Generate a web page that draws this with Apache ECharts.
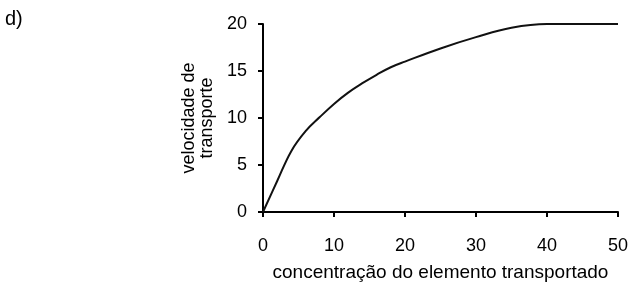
<!DOCTYPE html>
<html>
<head>
<meta charset="utf-8">
<script src="https://cdn.jsdelivr.net/npm/echarts@6/dist/echarts.min.js"></script>
<style>
  html, body { margin: 0; padding: 0; background: #fff; }
  #chart { width: 631px; height: 287px; }
</style>
</head>
<body>
<div id="chart"></div>
<script>
  // valores
  var concentracao = [0, 2, 4, 6, 8, 10, 12, 14, 16, 18, 20, 25, 30, 35, 40, 45, 50]
  var velocidade = [0, 3.3, 6.5, 8.6, 10.1, 11.5, 12.7, 13.7, 14.6, 15.4, 16.0, 17.4, 18.6, 19.6, 20, 20, 20]
  var xTicks = [0, 10, 20, 30, 40, 50]
  var yTicks = [0, 5, 10, 15, 20]

  var pts = []
  for (var i = 0; i < concentracao.length; i++) {
    pts.push([concentracao[i], velocidade[i]])
  }

  var fonte = '"Liberation Sans", Arial, sans-serif'

  var myChart = echarts.init(document.getElementById('chart'))
  myChart.setOption({
    animation: false,
    grid: { left: 263, right: 13, top: 24, bottom: 75 },
    graphic: [{
      type: 'text', left: 5, top: 9,
      style: { text: 'd)', font: '20px ' + fonte, fill: '#000' }
    }],
    xAxis: {
      type: 'value',
      min: xTicks[0], max: xTicks[xTicks.length - 1], interval: 10,
      name: 'concentração do elemento transportado',
      nameLocation: 'middle', nameGap: 51,
      nameTextStyle: { color: '#000', fontSize: 19, fontFamily: fonte },
      axisLine: { lineStyle: { color: '#000', width: 2 } },
      axisTick: { show: true, length: 5, lineStyle: { color: '#000', width: 2 } },
      axisLabel: { color: '#000', fontSize: 18, fontFamily: fonte, margin: 25 },
      splitLine: { show: false }
    },
    yAxis: {
      type: 'value',
      min: yTicks[0], max: yTicks[yTicks.length - 1], interval: 5,
      name: 'velocidade de\ntransporte',
      nameLocation: 'middle', nameRotate: 90, nameGap: 47,
      nameTextStyle: { color: '#000', fontSize: 18, fontFamily: fonte, lineHeight: 18 },
      axisLine: { show: true, lineStyle: { color: '#000', width: 2 } },
      axisTick: { show: true, length: 5, lineStyle: { color: '#000', width: 2 } },
      axisLabel: { color: '#000', fontSize: 18, fontFamily: fonte, margin: 16 },
      splitLine: { show: false }
    },
    series: [{
      type: 'line',
      data: pts,
      smooth: 0.4,
      showSymbol: false,
      lineStyle: { color: '#111', width: 2 }
    }]
  })
</script>
</body>
</html>
